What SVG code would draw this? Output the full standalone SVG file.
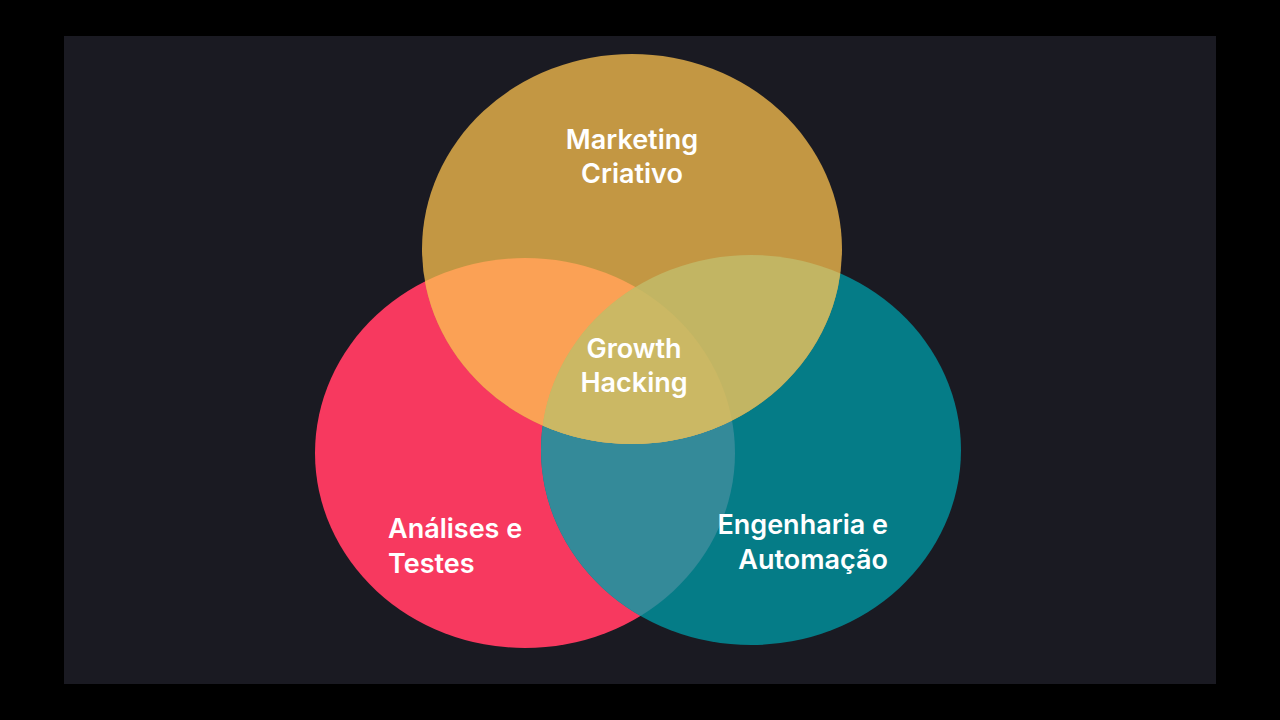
<svg xmlns="http://www.w3.org/2000/svg" width="1280" height="720" viewBox="0 0 1280 720">
<defs>
<style>
.t{font-family:Inter,"Open Sans",sans-serif;font-weight:600;font-size:27px;fill:#ffffff}
</style>
<clipPath id="cp"><ellipse cx="525" cy="453" rx="210" ry="195"/></clipPath>
<clipPath id="ct"><ellipse cx="751" cy="450" rx="210" ry="195"/></clipPath>
<clipPath id="cg"><ellipse cx="632" cy="249" rx="210" ry="195"/></clipPath>
</defs>
<rect width="1280" height="720" fill="#000"/>
<rect x="64" y="36" width="1152" height="648" fill="#1a1a22"/>
<g id="pink"><ellipse cx="525" cy="453" rx="210" ry="195" fill="#f7395f"/></g>
<g id="teal"><ellipse cx="751" cy="450" rx="210" ry="195" fill="#057c87"/></g>
<g id="gold"><ellipse cx="632" cy="249" rx="210" ry="195" fill="#c39743"/></g>
<g id="overlaps">
<g clip-path="url(#cp)"><ellipse cx="751" cy="450" rx="210" ry="195" fill="#348a99"/><ellipse cx="632" cy="249" rx="210" ry="195" fill="#fba155"/></g>
<g clip-path="url(#ct)"><ellipse cx="632" cy="249" rx="210" ry="195" fill="#c2b563"/></g>
<g clip-path="url(#cp)"><g clip-path="url(#ct)"><ellipse cx="632" cy="249" rx="210" ry="195" fill="#cbb864"/></g></g>
</g>
<g id="connectors"/>
<g id="labels">
<text class="t" x="632" y="149" text-anchor="middle">Marketing</text>
<text class="t" x="632" y="183" text-anchor="middle">Criativo</text>
<text class="t" x="634" y="358" text-anchor="middle">Growth</text>
<text class="t" x="634" y="392" text-anchor="middle">Hacking</text>
<text class="t" x="388" y="538">Análises e</text>
<text class="t" x="388" y="573">Testes</text>
<text class="t" x="888" y="534" text-anchor="end">Engenharia e</text>
<text class="t" x="888" y="569" text-anchor="end">Automação</text>
</g>
</svg>
